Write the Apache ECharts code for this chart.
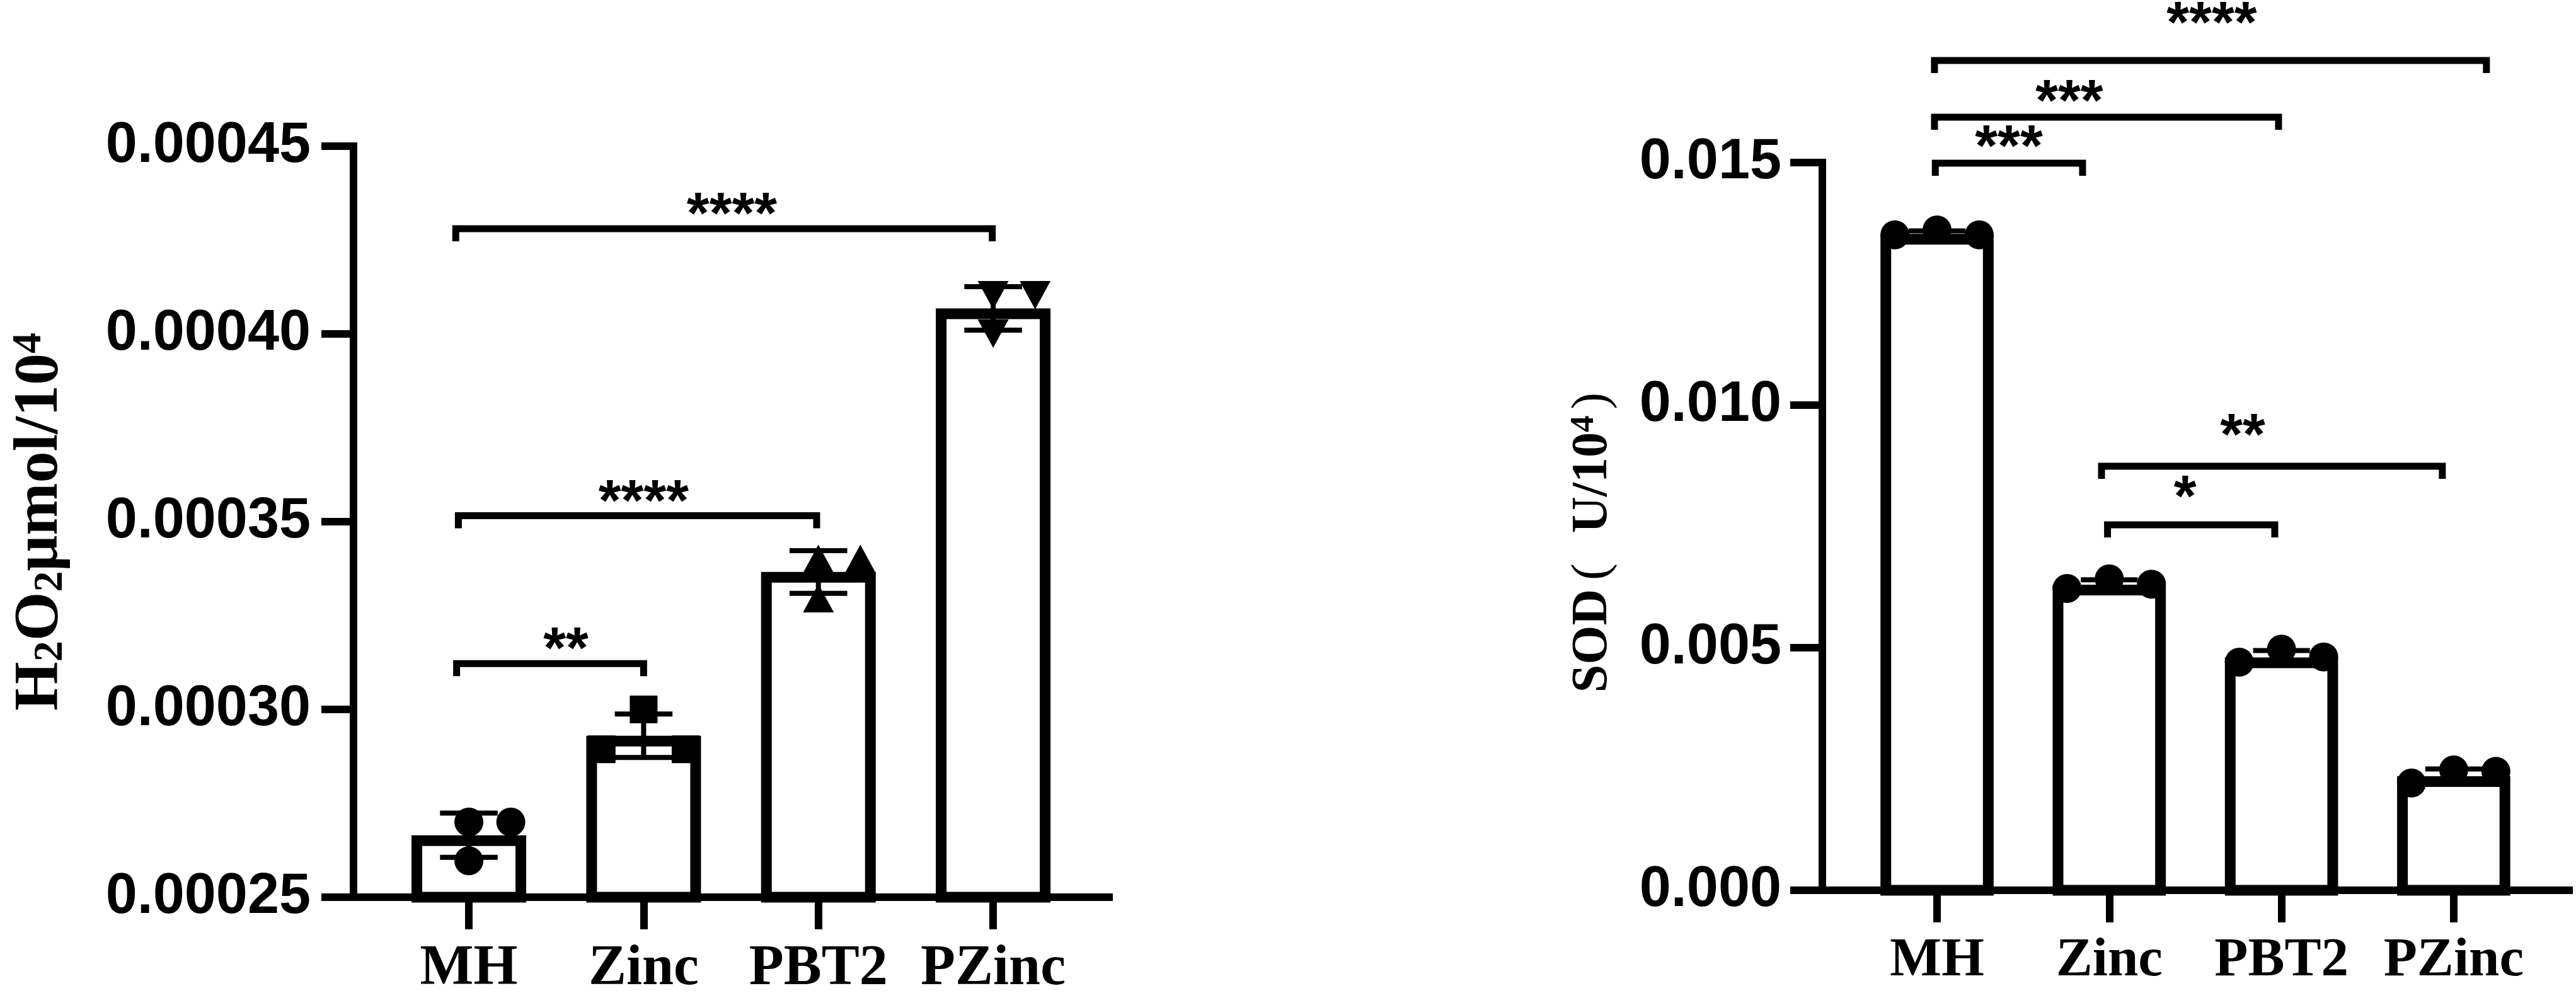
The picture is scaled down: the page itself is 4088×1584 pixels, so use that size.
<!DOCTYPE html>
<html>
<head>
<meta charset="utf-8">
<script src="https://cdn.jsdelivr.net/npm/echarts@6/dist/echarts.min.js"></script>
<style>
html, body { margin: 0; padding: 0; background: #fff; }
#main { width: 4088px; height: 1584px; }
</style>
</head>
<body>
<div id="main"></div>
<script>
const categories = ['MH', 'Zinc', 'PBT2', 'PZinc'];
const catIndex = [0, 1, 2, 3];

// left panel: H2O2
const h2o2Ticks = [0.00025, 0.00030, 0.00035, 0.00040, 0.00045];
const h2o2Mean = [0.0002665, 0.0002930, 0.0003366, 0.0004068];
const h2o2Sd = [0.0000059, 0.0000058, 0.0000057, 0.0000058];
const h2o2Reps = [
  [0.0002700, 0.0002700, 0.0002597],
  [0.0003000, 0.0002894, 0.0002894],
  [0.0003401, 0.0003401, 0.0003296],
  [0.0004103, 0.0004103, 0.0004001]
];
const h2o2Jitter = [
  [0, 0.24, 0],
  [0, -0.24, 0.24],
  [0, 0.24, 0],
  [0, 0.24, 0]
];
// from, to, bracket value, label, label x, label value
const h2o2Sig = [
  [-0.07, 1, 0.0003122, '**', 0.555, 0.0003189],
  [-0.06, 1.99, 0.0003516, '****', 1.0, 0.0003581],
  [-0.075, 2.995, 0.0004280, '****', 1.505, 0.0004347]
];

// right panel: SOD
const sodTicks = [0.000, 0.005, 0.010, 0.015];
const sodMean = [0.01353, 0.00630, 0.00480, 0.00235];
const sodSd = [0.00006, 0.00010, 0.00014, 0.00015];
const sodReps = [
  [0.01351, 0.01361, 0.01351],
  [0.00622, 0.00642, 0.00631],
  [0.00470, 0.00497, 0.00481],
  [0.00221, 0.00248, 0.00245]
];
const sodJitter = [
  [-0.245, 0, 0.245],
  [-0.245, 0, 0.245],
  [-0.245, 0, 0.245],
  [-0.245, 0, 0.245]
];
const sodSig = [
  [-0.01, 0.845, 0.014987, '***', 0.417, 0.015532],
  [-0.015, 1.983, 0.015935, '***', 0.768, 0.016468],
  [-0.015, 3.19, 0.017104, '****', 1.595, 0.018078],
  [0.99, 1.961, 0.007532, '*', 1.44, 0.008312],
  [0.955, 2.934, 0.008740, '**', 1.775, 0.009584]
];

const h2o2Symbols = ['circle', 'rect', 'triangle', 'triangleDown'];
const sodSymbols = ['circle', 'circle', 'circle', 'circle'];

const INK = '#000';
const SANS = 'Liberation Sans, Arial, sans-serif';
const SERIF = 'Liberation Serif, Times New Roman, serif';

function step(t) { return +(t[1] - t[0]).toPrecision(6); }

function barItem(yMin) {
  return function (params, api) {
    const i = api.value(0);
    const top = api.coord([i, api.value(1)]);
    const base = api.coord([i, yMin]);
    const w = api.size([1, 0])[0] * 0.595;
    return {
      type: 'rect',
      shape: { x: top[0] - w / 2, y: top[1] + 8.5, width: w, height: base[1] - top[1] - 8.5 },
      style: { fill: '#fff', stroke: INK, lineWidth: 17 }
    };
  };
}

function errItem(sd) {
  return function (params, api) {
    const i = api.value(0), m = api.value(1), s = sd[params.dataIndex];
    const hi = api.coord([i, m + s]), lo = api.coord([i, m - s]);
    const hw = api.size([1, 0])[0] * 0.165;
    const st = { stroke: INK, lineWidth: 8 };
    return {
      type: 'group',
      children: [
        { type: 'line', shape: { x1: hi[0], y1: hi[1], x2: lo[0], y2: lo[1] }, style: st },
        { type: 'line', shape: { x1: hi[0] - hw, y1: hi[1], x2: hi[0] + hw, y2: hi[1] }, style: st },
        { type: 'line', shape: { x1: lo[0] - hw, y1: lo[1], x2: lo[0] + hw, y2: lo[1] }, style: st }
      ]
    };
  };
}

function pointItem(symbols) {
  return function (params, api) {
    const g = api.value(0);
    const p = api.coord([g + api.value(1), api.value(2)]);
    const kind = symbols[g], cx = p[0], cy = p[1];
    const st = { fill: INK };
    if (kind === 'circle') return { type: 'circle', shape: { cx: cx, cy: cy, r: 23 }, style: st };
    if (kind === 'rect') return { type: 'rect', shape: { x: cx - 22, y: cy - 22, width: 44, height: 44 }, style: st };
    const w = 49, h = 45, s = kind === 'triangle' ? 1 : -1;
    return {
      type: 'polygon',
      shape: { points: [[cx, cy - s * h / 2], [cx + w / 2, cy + s * h / 2], [cx - w / 2, cy + s * h / 2]] },
      style: st
    };
  };
}

function sigItem(sig) {
  return function (params, api) {
    const b = sig[params.dataIndex];
    const a = api.coord([b[0], b[2]]), c = api.coord([b[1], b[2]]);
    const t = api.coord([b[4], b[5]]);
    return {
      type: 'group',
      children: [
        {
          type: 'polyline',
          shape: { points: [[a[0], a[1] + 20], [a[0], a[1]], [c[0], c[1]], [c[0], c[1] + 20]] },
          style: { stroke: INK, lineWidth: 11, fill: null, lineJoin: 'miter' }
        },
        {
          type: 'text', x: t[0], y: t[1] + 21,
          style: {
            text: b[3], fill: INK, fontFamily: SANS, fontWeight: 'bold', fontSize: 92,
            align: 'center', verticalAlign: 'middle'
          }
        }
      ]
    };
  };
}

function xAxisOf(gi, min, max, size, margin) {
  return {
    gridIndex: gi, type: 'value', min: min, max: max,
    axisLine: { show: true, onZero: false, lineStyle: { color: INK, width: 12, cap: 'square' } },
    axisTick: { show: true, customValues: catIndex, length: 51, lineStyle: { color: INK, width: 12 } },
    axisLabel: {
      show: true, customValues: catIndex, margin: margin,
      formatter: function (v) { return categories[Math.round(v)]; },
      color: INK, fontFamily: SERIF, fontWeight: 'bold', fontSize: size, lineHeight: size
    },
    splitLine: { show: false }
  };
}

function yAxisOf(gi, ticks, digits, margin, name, nameGap, nameStyle) {
  return {
    gridIndex: gi, type: 'value',
    min: ticks[0], max: ticks[ticks.length - 1], interval: step(ticks),
    axisLine: { show: true, onZero: false, lineStyle: { color: INK, width: 12, cap: 'square' } },
    axisTick: { show: true, length: 51, lineStyle: { color: INK, width: 12 } },
    axisLabel: {
      margin: margin, color: INK, fontFamily: SANS, fontWeight: 'bold', fontSize: 90,
      formatter: function (v) { return v.toFixed(digits); }
    },
    splitLine: { show: false },
    name: name, nameLocation: 'middle', nameGap: nameGap, nameRotate: 90,
    nameTextStyle: nameStyle
  };
}

function repData(reps, jitter) {
  const out = [];
  reps.forEach(function (r, g) {
    r.forEach(function (v, k) { out.push([g, jitter[g][k], v]); });
  });
  return out;
}

function panelSeries(ai, mean, sd, reps, jitter, sig, symbols, yMin) {
  const means = mean.map(function (v, i) { return [i, v]; });
  return [
    { type: 'custom', xAxisIndex: ai, yAxisIndex: ai, renderItem: barItem(yMin), data: means, encode: { x: 0, y: 1 }, z: 2, clip: false, silent: true },
    { type: 'custom', xAxisIndex: ai, yAxisIndex: ai, renderItem: errItem(sd), data: means, encode: { x: 0, y: 1 }, z: 3, clip: false, silent: true },
    { type: 'custom', xAxisIndex: ai, yAxisIndex: ai, renderItem: pointItem(symbols), data: repData(reps, jitter), encode: { x: 0, y: 2 }, z: 4, clip: false, silent: true },
    { type: 'custom', xAxisIndex: ai, yAxisIndex: ai, renderItem: sigItem(sig), data: sig.map(function (b) { return [b[0], b[1], b[2]]; }), encode: { x: [0, 1], y: 2 }, z: 5, clip: false, silent: true }
  ];
}

const h2o2Name = {
  color: INK, fontFamily: SERIF, fontWeight: 'bold', fontSize: 100, lineHeight: 100,
  rich: {
    sub: { color: INK, fontFamily: SERIF, fontWeight: 'bold', fontSize: 66, lineHeight: 33, verticalAlign: 'bottom' },
    sup: { color: INK, fontFamily: SERIF, fontWeight: 'bold', fontSize: 66, lineHeight: 24, verticalAlign: 'top' }
  }
};
const sodName = {
  color: INK, fontFamily: SERIF, fontWeight: 'bold', fontSize: 80, lineHeight: 80,
  rich: {
    sup: { color: INK, fontFamily: SERIF, fontWeight: 'bold', fontSize: 53, lineHeight: 14, verticalAlign: 'top' },
    lp: { color: INK, fontFamily: SERIF, fontWeight: 'normal', fontSize: 80, lineHeight: 80, padding: [0, 48, 0, 14] },
    rp: { color: INK, fontFamily: SERIF, fontWeight: 'normal', fontSize: 80, lineHeight: 80, padding: [0, 51, 0, 10] }
  }
};

const chart = echarts.init(document.getElementById('main'), null, { renderer: 'canvas' });
chart.setOption({
  backgroundColor: '#fff',
  animation: false,
  grid: [
    { left: 561, top: 232, width: 1199, height: 1199 },
    { left: 2892, top: 258, width: 1185, height: 1155 }
  ],
  xAxis: [
    xAxisOf(0, -0.66, 3.663, 90, 70),
    xAxisOf(1, -0.666, 3.67, 87, 69)
  ],
  yAxis: [
    yAxisOf(0, h2o2Ticks, 5, 68, 'H{sub|2}O{sub|2}μmol/10{sup|4}', 447, h2o2Name),
    yAxisOf(1, sodTicks, 3, 65, 'SOD{lp|(}U/10{sup|4}{rp|)}', 324, sodName)
  ],
  series: panelSeries(0, h2o2Mean, h2o2Sd, h2o2Reps, h2o2Jitter, h2o2Sig, h2o2Symbols, h2o2Ticks[0])
    .concat(panelSeries(1, sodMean, sodSd, sodReps, sodJitter, sodSig, sodSymbols, sodTicks[0]))
});
</script>
</body>
</html>
